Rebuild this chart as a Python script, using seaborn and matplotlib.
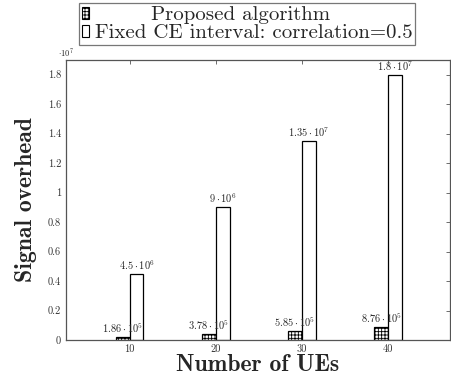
import numpy as np
import pandas as pd
import matplotlib
matplotlib.use("Agg")
import matplotlib.pyplot as plt
import seaborn as sns
from matplotlib.patches import Patch
from matplotlib.ticker import FuncFormatter

ues = [10, 20, 30, 40]
proposed = [1.86e5, 3.78e5, 5.85e5, 8.76e5]
fixed = [4.5e6, 9e6, 1.35e7, 1.8e7]
proposed_labels = [r"$1.86\cdot10^{5}$", r"$3.78\cdot10^{5}$",
                   r"$5.85\cdot10^{5}$", r"$8.76\cdot10^{5}$"]
fixed_labels = [r"$4.5\cdot10^{6}$", r"$9\cdot10^{6}$",
                r"$1.35\cdot10^{7}$", r"$1.8\cdot10^{7}$"]
methods = ["Proposed algorithm", "Fixed CE interval: correlation=0.5"]

df = pd.DataFrame({
    "UEs": ues * 2,
    "overhead": proposed + fixed,
    "method": [methods[0]] * 4 + [methods[1]] * 4,
})

sns.set_style("white")
plt.rcParams["font.family"] = ["cmr10", "DejaVu Sans"]
plt.rcParams["mathtext.fontset"] = "cm"
plt.rcParams["axes.formatter.use_mathtext"] = True
plt.rcParams["hatch.linewidth"] = 0.6

fig = plt.figure(figsize=(4.51, 3.81), dpi=100)
ax = fig.add_axes([66 / 451, 41 / 381, (450 - 66) / 451, 280 / 381])

sns.barplot(data=df, x="UEs", y="overhead", hue="method", native_scale=True,
            width=0.32, palette=["white", "white"], edgecolor="black",
            linewidth=0.9, errorbar=None, legend=False, ax=ax)

for bar in ax.containers[0]:
    bar.set_hatch("+++++")

ax.bar_label(ax.containers[0], labels=proposed_labels, padding=1.5, fontsize=7.5)
ax.bar_label(ax.containers[1], labels=fixed_labels, padding=1.5, fontsize=7.5)

ax.set_xlim(2.6, 47.2)
ax.set_ylim(0, 1.9e7)
ax.set_xticks(ues)
ax.set_xticklabels([str(u) for u in ues])
ax.set_yticks(np.arange(0, 1.81e7, 2e6))
ax.yaxis.set_major_formatter(FuncFormatter(lambda v, p: f"{round(v / 1e7, 1):g}"))
ax.text(0, 1.003, r"$\cdot10^{7}$", transform=ax.transAxes, ha="center",
        va="bottom", fontsize=6)

ax.tick_params(direction="in", top=True, right=True, length=3, width=0.6,
               colors="#555555", labelsize=7.5, labelcolor="#333333")
for s in ax.spines.values():
    s.set_color("#555555")
    s.set_linewidth(0.9)

ax.set_xlabel("Number of UEs", fontfamily="cmb10", fontsize=17, labelpad=0)
ax.set_ylabel("Signal overhead", fontfamily="cmb10", fontsize=17, labelpad=8)

handles = [Patch(facecolor="white", edgecolor="black", hatch="+++++", linewidth=0.8),
           Patch(facecolor="white", edgecolor="black", linewidth=0.8)]
leg = fig.legend(handles, [" " * 8 + methods[0], methods[1]], loc="upper center",
                 bbox_to_anchor=(0.548, 0.992), fontsize=15, frameon=True,
                 fancybox=False, edgecolor="#555555", handlelength=0.35,
                 handleheight=0.5, handletextpad=0.25, borderpad=0.15,
                 labelspacing=0.0, borderaxespad=0)
leg.get_frame().set_linewidth(0.9)

fig.savefig("out.png", dpi=100)
